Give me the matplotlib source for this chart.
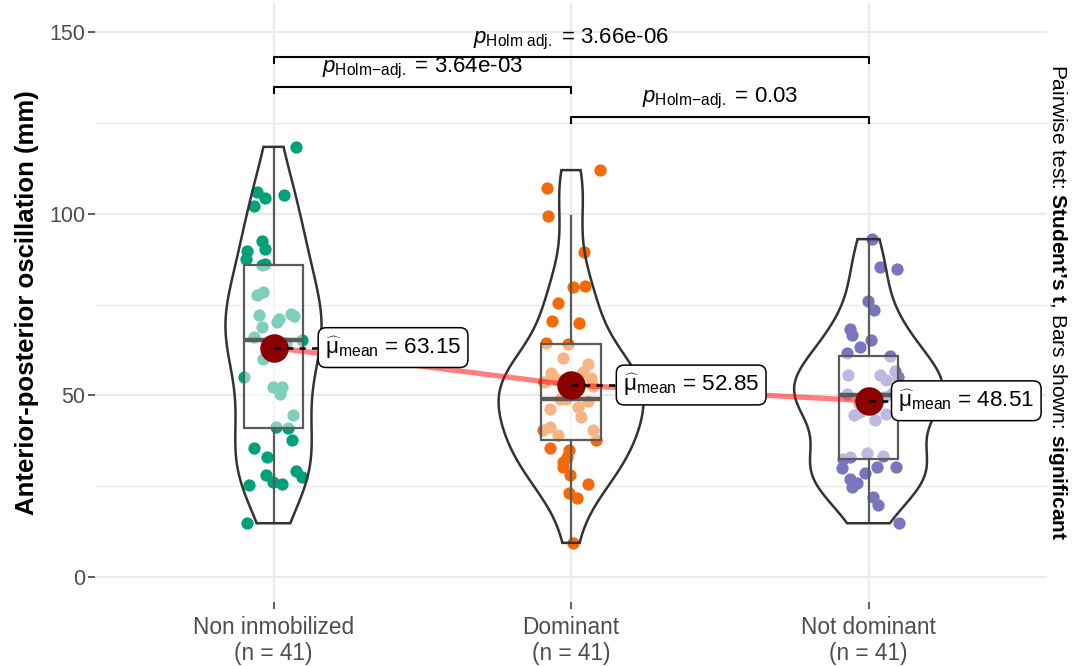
import matplotlib
matplotlib.use("Agg")
import matplotlib.pyplot as plt
import numpy as np

plt.rcParams["font.family"] = ["Liberation Sans", "DejaVu Sans"]
plt.rcParams["mathtext.fontset"] = "custom"
plt.rcParams["mathtext.rm"] = "Liberation Sans"
plt.rcParams["mathtext.it"] = "Liberation Sans:italic"
plt.rcParams["mathtext.bf"] = "Liberation Sans:bold"

# 데이터
groups = ["Non inmobilized", "Dominant", "Not dominant"]
n_labels = ["(n = 41)", "(n = 41)", "(n = 41)"]

non_inmob = [118.4, 105.9, 104.2, 102.2, 105.2, 92.4, 90.4, 89.8, 87.5, 86.2,
             85.8, 77.5, 78.4, 72.0, 72.5, 70.1, 68.8, 65.1, 60.1, 55.0,
             52.3, 52.3, 50.5, 44.5, 41.3, 40.9, 37.6, 35.4, 33.1, 28.0,
             26.2, 25.7, 29.1, 27.6, 25.3, 14.8, 63.5, 64.5, 66.0, 71.0, 71.9]
non_inmob_jit = [22, -17, -9, -20, 10, -12, -9, -27, -28, -9,
                 -12, -17, -11, -15, 17, 3, -12, 28, -11, -30,
                 -1, 9, 6, 19, 2, 14, 18, -20, -7, -8,
                 -1, 8, 22, 28, -25, -27, -5, 12, -20, 5, 20]

dominant = [112.0, 107.0, 99.5, 89.4, 79.8, 80.0, 75.5, 70.4, 69.9, 64.4,
            64.2, 60.3, 58.7, 56.1, 53.7, 52.7, 49.0, 46.8, 48.4, 46.3,
            41.3, 40.4, 39.0, 40.4, 37.8, 35.4, 34.9, 33.1, 31.7, 30.3,
            28.0, 25.5, 23.0, 21.8, 9.4, 44.0, 48.9, 52.0, 54.5, 56.5, 54.85]
dominant_jit = [29, -24, -23, 13, 2, 14, -13, -19, 8, -25,
                -3, -8, 17, -20, -27, 22, -11, 7, 17, -21,
                -21, -28, -13, 22, 25, -21, -2, -4, -8, -8,
                -1, 17, -2, 6, 2, 10, -5, 3, -15, 12, 20]

not_dominant = [93.0, 85.3, 84.8, 76.1, 73.5, 68.3, 66.5, 65.1, 63.3, 61.6,
                60.8, 56.6, 55.5, 55.5, 54.1, 55.0, 45.4, 43.1, 45.0, 34.0,
                33.2, 32.9, 32.6, 29.9, 30.3, 30.3, 28.5, 27.1, 24.8, 22.1,
                19.8, 14.8, 48.0, 49.5, 50.3, 50.5, 44.5, 50.0, 50.6, 50.8, 26.0]
not_dominant_jit = [3, 11, 28, -1, 5, -19, -17, 2, -9, -21,
                    21, 26, -20, 11, 18, 29, -9, 6, 18, -2,
                    14, -19, -26, -27, 8, 27, -4, -19, -17, 4,
                    9, 30, -10, 15, 22, -22, -15, 5, -3, 25, -12]

mean_labels = ["63.15", "52.85", "48.51"]

# 쌍별 비교 (그룹 i, 그룹 j, 라벨, 브래킷 높이)
pairs = [(1, 3, "Holm\\ adj.", "3.66e-06", 143.1),
         (1, 2, "Holm{-}adj.", "3.64e-03", 134.9),
         (2, 3, "Holm{-}adj.", "0.03", 126.6)]

colors = ["#00A07A", "#F46A0A", "#7B74BF"]
data = [non_inmob, dominant, not_dominant]
jits = [non_inmob_jit, dominant_jit, not_dominant_jit]
pos = [1, 2, 3]
px_per_unit = 297.5

fig = plt.figure(figsize=(10.87, 6.66), dpi=100)
ax = fig.add_axes([95 / 1087, (666 - 602) / 666, 952 / 1087, 599 / 666])

# 점 (jitter)
for i in range(3):
    xs = pos[i] + np.array(jits[i]) / px_per_unit
    ax.scatter(xs, data[i], s=78, color=colors[i], linewidths=0, zorder=2)

# 박스플롯
ax.boxplot(data, positions=pos, widths=0.2, whis=1.5, showfliers=False,
           showcaps=False, patch_artist=True, manage_ticks=False,
           boxprops=dict(facecolor=(1, 1, 1, 0.5), edgecolor="#5a5a5a", linewidth=1.6),
           medianprops=dict(color="#5a5a5a", linewidth=3.2),
           whiskerprops=dict(color="#5a5a5a", linewidth=1.6),
           zorder=3)

# 바이올린 (R bw.nrd0, gaussian, trim)
dens_list = []
for d in data:
    d = np.array(d)
    n = len(d)
    iqr = np.subtract(*np.percentile(d, [75, 25]))
    bw = 0.9 * min(np.std(d, ddof=1), iqr / 1.34) * n ** (-0.2)
    grid = np.linspace(d.min(), d.max(), 512)
    dens = np.exp(-0.5 * ((grid[:, None] - d[None, :]) / bw) ** 2).sum(axis=1) / (n * bw * np.sqrt(2 * np.pi))
    dens_list.append((grid, dens))
gmax = max(dd.max() for _, dd in dens_list)
for i, (grid, dens) in enumerate(dens_list):
    hw = 0.25 * dens / gmax
    vx = np.concatenate([pos[i] + hw, (pos[i] - hw)[::-1]])
    vy = np.concatenate([grid, grid[::-1]])
    ax.fill(vx, vy, facecolor="none", edgecolor="#333333", linewidth=1.8, zorder=4)

# 평균 경로 + 평균점
means = [np.mean(d) for d in data]
ax.plot(pos, means, color="red", alpha=0.5, linewidth=3.8, zorder=5, solid_capstyle="butt")
ax.scatter(pos, means, s=420, color="#8B0000", linewidths=0, zorder=6)

# 평균 라벨
label_dx = [0.151, 0.153, 0.078]
for i in range(3):
    x0 = pos[i] + label_dx[i]
    ax.plot([pos[i], x0], [means[i], means[i]], color="black", linestyle=(0, (2.5, 2.5)),
            linewidth=1.8, zorder=7)
    ax.text(x0 + 0.022, means[i], r"$\widehat{\mathrm{μ}}_{\mathrm{mean}}$ = " + mean_labels[i],
            fontsize=16.2, ha="left", va="center", zorder=8,
            bbox=dict(boxstyle="round,pad=0.3,rounding_size=0.35", facecolor="white",
                      edgecolor="black", linewidth=1.1))

# 유의성 브래킷
for g1, g2, sub, pval, yb in pairs:
    ax.plot([g1, g1, g2, g2], [yb - 1.6, yb, yb, yb - 1.6], color="black", linewidth=1.5, zorder=5)
    ax.text((g1 + g2) / 2, yb + 5.0, r"$p_{\mathrm{" + sub + "}}$ = " + pval,
            fontsize=16, ha="center", va="center", zorder=8)

ax.set_xlim(0.4, 3.6)
ax.set_ylim(-(602 - 577) / 3.633, (577 - 3) / 3.633)
ax.set_yticks([0, 50, 100, 150])
ax.set_yticks([25, 75, 125], minor=True)
ax.set_xticks(pos)
ax.set_xticklabels([f"{g}\n{n}" for g, n in zip(groups, n_labels)], linespacing=1.15)
ax.tick_params(axis="y", which="major", labelsize=15.5, labelcolor="#4D4D4D", color="#333333",
               length=5, width=1.1, pad=2)
ax.tick_params(axis="y", which="minor", length=0)
ax.tick_params(axis="x", labelsize=16.3, labelcolor="#4D4D4D", color="#333333",
               length=5, width=1.1, pad=5)
ax.grid(True, which="major", color="#EBEBEB", linewidth=1.6, zorder=0)
ax.grid(True, which="minor", axis="y", color="#EBEBEB", linewidth=0.9, zorder=0)
ax.set_axisbelow(True)
for s in ax.spines.values():
    s.set_visible(False)

ax.set_ylabel("Anterior-posterior oscillation (mm)", fontsize=18.5, fontweight="bold")
ax.yaxis.set_label_coords(-0.0588, 0.5)

# 오른쪽 보조 제목
fig.text(1058 / 1087, (666 - 302.5) / 666,
         r"Pairwise test: $\mathbf{Student’s\ t}$, Bars shown: $\mathbf{significant}$",
         rotation=270, ha="center", va="center", fontsize=15)

plt.savefig("out.png", dpi=100)
